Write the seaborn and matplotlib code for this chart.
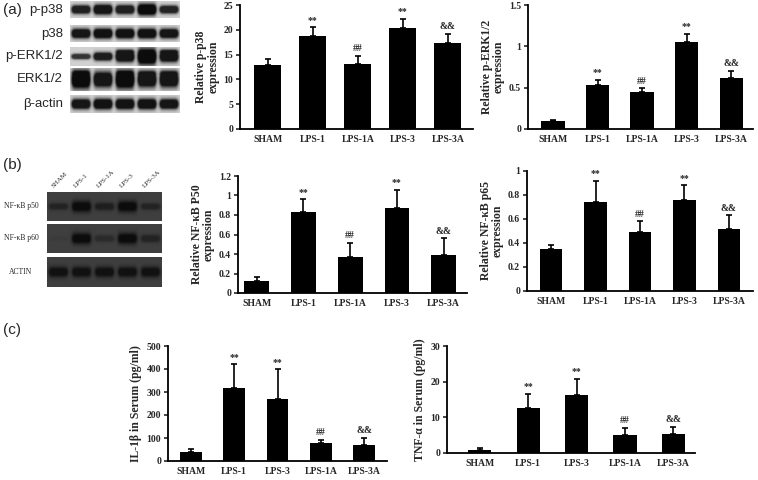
import numpy as np
import matplotlib
matplotlib.use("Agg")
import matplotlib.pyplot as plt
import seaborn as sns

# ---- data ----
groups_ab = ["SHAM", "LPS-1", "LPS-1A", "LPS-3", "LPS-3A"]
groups_c = ["SHAM", "LPS-1", "LPS-3", "LPS-1A", "LPS-3A"]
marks_ab = ["", "**", "##", "**", "&&"]
marks_c = ["", "**", "**", "##", "&&"]

p38_mean = [13.0, 18.7, 13.2, 20.3, 17.3]
p38_err = [1.1, 1.8, 1.5, 1.9, 1.8]

erk_mean = [0.10, 0.53, 0.45, 1.05, 0.62]
erk_err = [0.01, 0.06, 0.04, 0.10, 0.08]

p50_mean = [0.12, 0.83, 0.37, 0.87, 0.39]
p50_err = [0.04, 0.13, 0.14, 0.19, 0.17]

p65_mean = [0.35, 0.74, 0.49, 0.76, 0.52]
p65_err = [0.03, 0.18, 0.09, 0.12, 0.11]

il1b_mean = [37, 318, 270, 77, 68]
il1b_err = [15, 102, 128, 15, 32]

tnf_mean = [0.9, 12.7, 16.4, 5.0, 5.2]
tnf_err = [0.6, 3.8, 4.3, 2.1, 2.2]

# blot band darkness per lane (0 = none, 1 = black) and band thickness
blot_a_rows = ["p-p38", "p38", "p-ERK1/2", "ERK1/2", "β-actin"]
blot_a_dark = [[0.90, 0.95, 0.90, 1.00, 0.88],
               [0.95, 0.97, 0.97, 0.97, 0.95],
               [0.80, 0.92, 0.95, 1.00, 0.95],
               [1.00, 0.95, 1.00, 0.95, 0.95],
               [0.95, 0.97, 0.97, 0.97, 0.95]]
blot_a_thick = [[0.16, 0.19, 0.17, 0.22, 0.15],
                [0.18, 0.19, 0.19, 0.19, 0.18],
                [0.09, 0.14, 0.19, 0.28, 0.19],
                [0.26, 0.22, 0.26, 0.22, 0.22],
                [0.18, 0.19, 0.19, 0.19, 0.18]]

blot_b_lanes = ["SHAM", "LPS-1", "LPS-1A", "LPS-3", "LPS-3A"]
blot_b_rows = ["NF-κB p50", "NF-κB p60", "ACTIN"]
blot_b_dark = [[0.55, 1.00, 0.65, 1.00, 0.55],
               [0.08, 1.00, 0.40, 1.00, 0.55],
               [0.90, 0.90, 0.90, 0.90, 0.90]]
blot_b_thick = [[0.08, 0.13, 0.09, 0.13, 0.08],
                [0.06, 0.13, 0.08, 0.13, 0.09],
                [0.12, 0.12, 0.12, 0.12, 0.12]]

sns.set_theme(style="ticks")
plt.rcParams["font.family"] = ["Liberation Serif", "DejaVu Serif"]

W, H = 758, 480
fig = plt.figure(figsize=(W / 100, H / 100), dpi=100)


def px_axes(x0, y0, x1, y1):
    # pixel box (top-left origin) -> figure axes
    return fig.add_axes([x0 / W, 1 - y1 / H, (x1 - x0) / W, (y1 - y0) / H])


def bar_panel(box, groups, means, errs, marks, ylim, yticks, ylabels, ylabel, xlim, width):
    ax = px_axes(*box)
    sns.barplot(x=groups, y=means, color="black", width=width, saturation=1,
                edgecolor="black", linewidth=0, ax=ax)
    idx = np.arange(len(groups))
    ax.errorbar(idx, means, yerr=[np.zeros(len(errs)), errs], fmt="none",
                ecolor="black", elinewidth=1.2, capsize=2.5, capthick=1.2)
    for i, m in enumerate(marks):
        if m:
            ax.annotate(m, (i, means[i] + errs[i]), xytext=(0, 2),
                        textcoords="offset points", ha="center", va="bottom",
                        fontsize=7, fontweight="bold")
    ax.set_xlim(*xlim)
    ax.set_ylim(*ylim)
    ax.set_yticks(yticks)
    ax.set_yticklabels(ylabels)
    ax.set_ylabel(ylabel, fontsize=8.5, fontweight="bold", labelpad=3, linespacing=1.0)
    ax.set_xlabel("")
    for lab in ax.get_xticklabels() + ax.get_yticklabels():
        lab.set_fontweight("bold")
        lab.set_fontsize(7)
    ax.tick_params(axis="x", length=0, pad=4)
    ax.tick_params(axis="y", length=3, width=1.2, pad=2)
    sns.despine(ax=ax)
    for s in ("left", "bottom"):
        ax.spines[s].set_linewidth(1.3)
        ax.spines[s].set_color("black")
    return ax


def blot_strip(box, dark, thick, bg, n_lanes=5, double=None, gain=1.4):
    ax = px_axes(*box)
    nx, ny = 300, 60
    xs = (np.arange(nx) + 0.5) / nx * n_lanes
    ys = (np.arange(ny) + 0.5) / ny
    img = np.full((ny, nx), bg)
    for i in range(n_lanes):
        hx = 1 / (1 + np.exp(-(xs - (i + 0.1)) * 25)) * 1 / (1 + np.exp((xs - (i + 0.9)) * 25))
        vy = np.exp(-((ys - 0.5) / thick[i]) ** 2 * 0.5)
        if double is not None and double[i]:
            vy = np.maximum(vy, 0.8 * np.exp(-((ys - 0.3) / (thick[i] * 0.6)) ** 2 * 0.5))
        prof = np.outer(vy, hx)
        img = img - dark[i] * (img - 0.05) * np.clip(prof * gain, 0, 1)
    ax.imshow(img, cmap="gray", vmin=0, vmax=1, aspect="auto", interpolation="bilinear")
    ax.set_axis_off()
    return ax


# ---- panel (a) blots ----
fig.text(3 / W, 1 - 10 / H, "(a)", fontsize=11, family=["Liberation Sans", "DejaVu Sans"], va="center")
a_boxes = [(70, 1, 180, 18), (70, 25, 180, 42), (70, 47, 180, 66), (70, 68, 180, 91), (70, 95, 180, 113)]
a_double = [None, None, [0, 0, 1, 0, 1], [1, 0, 1, 1, 1], None]
for name, box, dk, th, db in zip(blot_a_rows, a_boxes, blot_a_dark, blot_a_thick, a_double):
    blot_strip(box, dk, th, bg=0.82, double=db, gain=2.0)
    fig.text(63 / W, 1 - (box[1] + box[3]) / 2 / H, name, fontsize=9.5, ha="right", va="center",
             family=["Liberation Sans", "DejaVu Sans"])

# ---- panel (b) blots ----
fig.text(3 / W, 1 - 165 / H, "(b)", fontsize=11, family=["Liberation Sans", "DejaVu Sans"], va="center")
b_boxes = [(47, 192, 162, 221), (47, 224, 162, 253), (47, 257, 162, 287)]
for name, box, dk, th in zip(blot_b_rows, b_boxes, blot_b_dark, blot_b_thick):
    blot_strip(box, dk, th, bg=0.25)
    fig.text(21 / W, 1 - (box[1] + box[3]) / 2 / H, name, fontsize=5.5, ha="center", va="center")
lane_w = (162 - 47) / 5
for i, lane in enumerate(blot_b_lanes):
    fig.text((47 + (i + 0.3) * lane_w) / W, 1 - 189 / H, lane, fontsize=5, rotation=45,
             rotation_mode="anchor", ha="left", va="bottom")

# ---- panel (c) label ----
fig.text(3 / W, 1 - 330 / H, "(c)", fontsize=11, family=["Liberation Sans", "DejaVu Sans"], va="center")

# ---- bar charts ----
bar_panel((240, 5, 473, 129), groups_ab, p38_mean, p38_err, marks_ab,
          (0, 25), [0, 5, 10, 15, 20, 25], ["0", "5", "10", "15", "20", "25"],
          "Relative p-p38\nexpression", (-0.62, 4.56), 0.6)

bar_panel((528, 5, 753, 129), groups_ab, erk_mean, erk_err, marks_ab,
          (0, 1.5), [0, 0.5, 1, 1.5], ["0", "0.5", "1", "1.5"],
          "Relative p-ERK1/2\nexpression", (-0.56, 4.49), 0.52)

bar_panel((238, 176, 467, 293), groups_ab, p50_mean, p50_err, marks_ab,
          (0, 1.2), [0, 0.2, 0.4, 0.6, 0.8, 1.0, 1.2], ["0", "0.2", "0.4", "0.6", "0.8", "1", "1.2"],
          "Relative NF-κB P50\nexpression", (-0.4, 4.5), 0.53)

bar_panel((527, 171, 753, 291), groups_ab, p65_mean, p65_err, marks_ab,
          (0, 1.0), [0, 0.2, 0.4, 0.6, 0.8, 1.0], ["0", "0.2", "0.4", "0.6", "0.8", "1"],
          "Relative NF-κB p65\nexpression", (-0.54, 4.54), 0.5)

bar_panel((168, 346, 387, 461), groups_c, il1b_mean, il1b_err, marks_c,
          (0, 500), [0, 100, 200, 300, 400, 500], ["0", "100", "200", "300", "400", "500"],
          "IL-1β in Serum (pg/ml)", (-0.53, 4.53), 0.5)

bar_panel((447, 346, 695, 453), groups_c, tnf_mean, tnf_err, marks_c,
          (0, 30), [0, 10, 20, 30], ["0", "10", "20", "30"],
          "TNF-α in Serum (pg/ml)", (-0.68, 4.45), 0.48)

fig.savefig("out.png", dpi=100, facecolor="white")
